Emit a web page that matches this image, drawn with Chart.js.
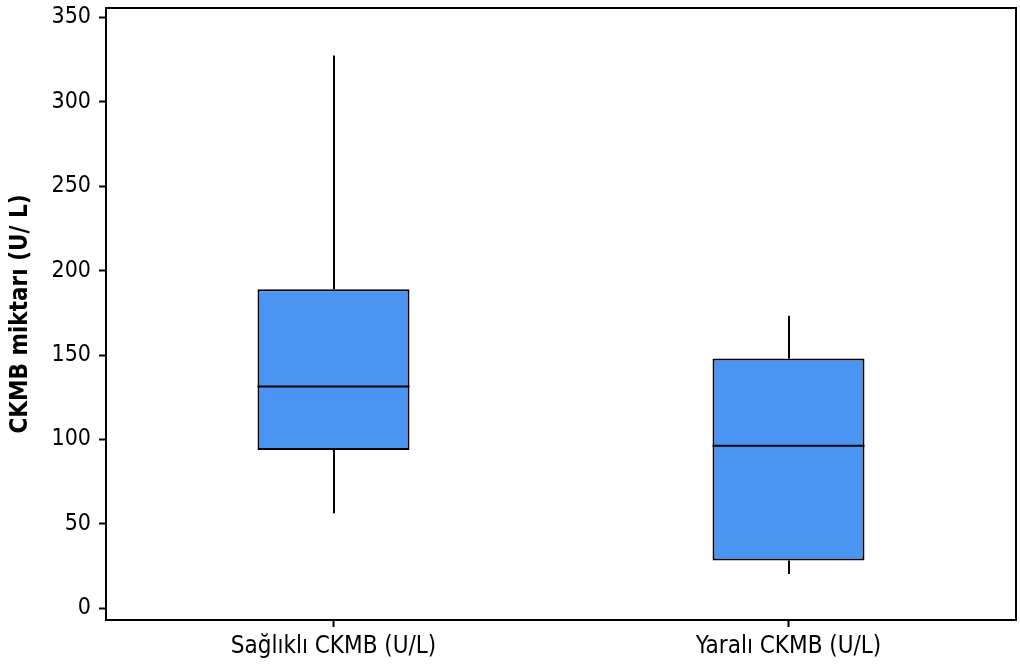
<!DOCTYPE html>
<html>
<head>
<meta charset="utf-8">
<script src="https://cdn.jsdelivr.net/npm/chart.js@4.4.1/dist/chart.umd.min.js"></script>
<style>
  html, body { margin: 0; padding: 0; background: #ffffff; }
  #wrap { width: 1020px; height: 667px; position: relative; }
</style>
</head>
<body>
<div id="wrap"><canvas id="chart"></canvas></div>
<script>
// Box plot summaries of CKMB (U/L) for the two groups
const categories = ['Sağlıklı CKMB (U/L)', 'Yaralı CKMB (U/L)'];
const whiskerLow = [56.3, 20.3];
const q1 = [93.8, 28.4];
const median = [131.3, 96.3];
const q3 = [189.0, 147.9];
const whiskerHigh = [327.4, 173.2];
const yTicks = [0, 50, 100, 150, 200, 250, 300, 350];
const yTitle = 'CKMB miktarı (U/ L)';

const FONT = '"DejaVu Sans Condensed", "DejaVu Sans", sans-serif';
const BOX_FILL = '#4a94f2';

// whiskers behind the boxes, median lines on top, frame around the plot area
const boxParts = {
  id: 'boxParts',
  beforeDatasetsDraw(chart) {
    const { ctx, scales: { x, y } } = chart;
    ctx.save();
    ctx.strokeStyle = '#000';
    ctx.lineWidth = 2;
    categories.forEach((c, i) => {
      const cx = Math.round(x.getPixelForValue(i));
      ctx.beginPath();
      ctx.moveTo(cx, y.getPixelForValue(whiskerLow[i]));
      ctx.lineTo(cx, y.getPixelForValue(q1[i]));
      ctx.moveTo(cx, y.getPixelForValue(q3[i]));
      ctx.lineTo(cx, y.getPixelForValue(whiskerHigh[i]));
      ctx.stroke();
    });
    ctx.restore();
  },
  afterDatasetsDraw(chart) {
    const { ctx, chartArea: a, scales: { y } } = chart;
    const meta = chart.getDatasetMeta(0);
    ctx.save();
    ctx.strokeStyle = '#000';
    ctx.lineWidth = 2;
    meta.data.forEach((bar, i) => {
      const half = bar.width / 2;
      const my = y.getPixelForValue(median[i]);
      ctx.beginPath();
      ctx.moveTo(bar.x - half, my);
      ctx.lineTo(bar.x + half, my);
      ctx.stroke();
    });
    ctx.strokeRect(a.left, a.top, a.right - a.left, a.bottom - a.top);
    ctx.restore();
  }
};

new Chart(document.getElementById('chart'), {
  type: 'bar',
  data: {
    labels: categories,
    datasets: [{
      data: q1.map((v, i) => [v, q3[i]]),
      backgroundColor: BOX_FILL,
      borderColor: '#000',
      borderWidth: 2,
      borderSkipped: false,
      categoryPercentage: 1,
      barPercentage: 0.334
    }]
  },
  options: {
    responsive: true,
    maintainAspectRatio: false,
    animation: false,
    devicePixelRatio: 1,
    layout: { padding: { left: 0, top: 8, right: 4, bottom: 0 } },
    plugins: { legend: { display: false }, tooltip: { enabled: false } },
    scales: {
      x: {
        type: 'category',
        offset: true,
        afterFit(scale) {
          scale.height = 47;
          scale.paddingLeft = 0;
          scale.paddingRight = 0;
        },
        grid: {
          offset: false, drawOnChartArea: false, drawTicks: true,
          tickLength: 7, tickWidth: 2, tickColor: '#000'
        },
        border: { display: true, color: '#000', width: 2 },
        ticks: { color: '#000', padding: 5, font: { family: FONT, size: 24 } }
      },
      y: {
        min: -6.9,
        max: 355.5,
        afterFit(scale) {
          scale.width = 106;
          scale.paddingTop = 0;
          scale.paddingBottom = 0;
        },
        afterBuildTicks(scale) { scale.ticks = yTicks.map(v => ({ value: v })); },
        grid: {
          drawOnChartArea: false, drawTicks: true,
          tickLength: 7, tickWidth: 2, tickColor: '#000'
        },
        border: { display: true, color: '#000', width: 2 },
        ticks: { color: '#000', padding: 8, font: { family: FONT, size: 23 } },
        title: {
          display: true, text: yTitle, color: '#000',
          padding: { top: 6, bottom: 0 },
          font: { family: FONT, size: 24, weight: 'bold' }
        }
      }
    }
  },
  plugins: [boxParts]
});
</script>
</body>
</html>
